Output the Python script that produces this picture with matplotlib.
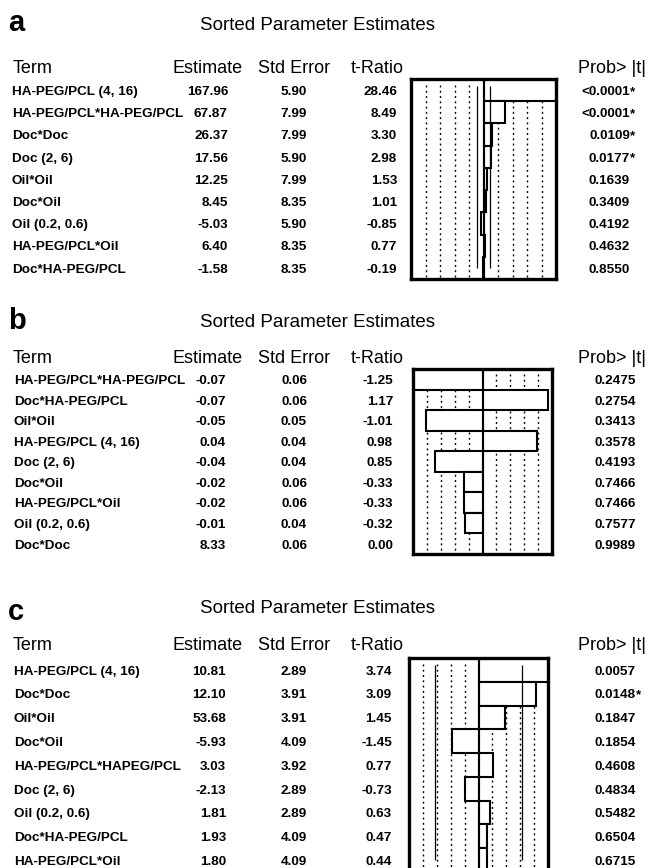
import matplotlib
matplotlib.use("Agg")
import matplotlib.pyplot as plt

plt.rcParams['font.family'] = ['Liberation Sans', 'DejaVu Sans']

W, H = 646, 868

# ---------------- data ----------------
headers = ["Term", "Estimate", "Std Error", "t-Ratio", "Prob> |t|"]
title = "Sorted Parameter Estimates"
T_CRIT = 2.365

terms_a = ["HA-PEG/PCL (4, 16)", "HA-PEG/PCL*HA-PEG/PCL", "Doc*Doc", "Doc (2, 6)",
           "Oil*Oil", "Doc*Oil", "Oil (0.2, 0.6)", "HA-PEG/PCL*Oil", "Doc*HA-PEG/PCL"]
est_a = [167.96, 67.87, 26.37, 17.56, 12.25, 8.45, -5.03, 6.40, -1.58]
se_a = [5.90, 7.99, 7.99, 5.90, 7.99, 8.35, 5.90, 8.35, 8.35]
t_a = [28.46, 8.49, 3.30, 2.98, 1.53, 1.01, -0.85, 0.77, -0.19]
p_a = ["<0.0001*", "<0.0001*", "0.0109*", "0.0177*", "0.1639", "0.3409",
       "0.4192", "0.4632", "0.8550"]
bars_a = t_a

terms_b = ["HA-PEG/PCL*HA-PEG/PCL", "Doc*HA-PEG/PCL", "Oil*Oil", "HA-PEG/PCL (4, 16)",
           "Doc (2, 6)", "Doc*Oil", "HA-PEG/PCL*Oil", "Oil (0.2, 0.6)", "Doc*Doc"]
est_b = [-0.07, -0.07, -0.05, 0.04, -0.04, -0.02, -0.02, -0.01, 8.33]
se_b = [0.06, 0.06, 0.05, 0.04, 0.04, 0.06, 0.06, 0.04, 0.06]
t_b = [-1.25, 1.17, -1.01, 0.98, 0.85, -0.33, -0.33, -0.32, 0.00]
p_b = ["0.2475", "0.2754", "0.3413", "0.3578", "0.4193", "0.7466",
       "0.7466", "0.7577", "0.9989"]
# bar chart values (the Doc (2, 6) bar points to the negative side)
bars_b = [-1.25, 1.17, -1.01, 0.98, -0.85, -0.33, -0.33, -0.32, 0.00]

terms_c = ["HA-PEG/PCL (4, 16)", "Doc*Doc", "Oil*Oil", "Doc*Oil", "HA-PEG/PCL*HAPEG/PCL",
           "Doc (2, 6)", "Oil (0.2, 0.6)", "Doc*HA-PEG/PCL", "HA-PEG/PCL*Oil"]
est_c = [10.81, 12.10, 53.68, -5.93, 3.03, -2.13, 1.81, 1.93, 1.80]
se_c = [2.89, 3.91, 3.91, 4.09, 3.92, 2.89, 2.89, 4.09, 4.09]
t_c = [3.74, 3.09, 1.45, -1.45, 0.77, -0.73, 0.63, 0.47, 0.44]
p_c = ["0.0057", "0.0148*", "0.1847", "0.1854", "0.4608", "0.4834",
       "0.5482", "0.6504", "0.6715"]
bars_c = t_c

# ---------------- layout (pixels) ----------------
layouts = {
    "a": dict(letter_y=31, title_y=30, head_y=73, box=(411, 79, 556, 279),
              term_x=12, est_x=228, se_x=307, t_x=397, p_x=630),
    "b": dict(letter_y=329, title_y=327, head_y=363, box=(413, 369, 552, 554),
              term_x=14, est_x=226, se_x=307, t_x=393, p_x=636),
    "c": dict(letter_y=620, title_y=613, head_y=650, box=(409, 658, 548, 872),
              term_x=14, est_x=226, se_x=307, t_x=392, p_x=636),
}
head_x = [13, 172, 258, 351, 578]

ROW_FS = 9.7
HEAD_FS = 13.0
TITLE_FS = 13.5
LETTER_FS = 21

fig = plt.figure(figsize=(W / 100, H / 100), dpi=100)
canvas = fig.add_axes([0, 0, 1, 1])
canvas.set_xlim(0, W)
canvas.set_ylim(H, 0)
canvas.axis('off')


def px_axes(x0, y0, x1, y1):
    return fig.add_axes([x0 / W, 1 - y1 / H, (x1 - x0) / W, (y1 - y0) / H])


def draw_panel(letter, terms, est, se, tr, prob, bars):
    L = layouts[letter]
    canvas.text(8, L["letter_y"], letter, fontsize=LETTER_FS, fontweight='bold',
                ha='left', va='baseline')
    canvas.text(317, L["title_y"], title, fontsize=TITLE_FS, ha='center', va='baseline')
    for hx, h in zip(head_x, headers):
        canvas.text(hx, L["head_y"], h, fontsize=HEAD_FS, ha='left', va='baseline')

    x0, y0, x1, y1 = L["box"]
    n = len(terms)
    band = (y1 - y0) / n

    # bar chart of t-ratios
    ax = px_axes(x0, y0, x1, y1)
    lim = max(abs(v) for v in bars)
    ax.set_xlim(-lim, lim)
    ax.set_ylim(n - 0.5, -0.5)
    for f in (0.2, 0.4, 0.6, 0.8):
        for sgn in (-1, 1):
            ax.vlines(sgn * f * lim, -0.25, n - 0.6, colors='black', lw=1.0,
                      linestyles=(0, (1.4, 2.4)), zorder=1)
    ax.barh(range(n), bars, height=1.0, color='white', edgecolor='black',
            linewidth=1.5, zorder=2)
    if T_CRIT < lim:
        for sgn in (-1, 1):
            ax.vlines(sgn * T_CRIT, -0.2, n - 1, colors='black', lw=0.9, zorder=3)
    ax.axvline(0, color='black', lw=1.5, zorder=3)
    for s in ax.spines.values():
        s.set_linewidth(2.4)
        s.set_zorder(4)
    ax.set_xticks([])
    ax.set_yticks([])

    # table rows
    for i in range(n):
        yb = y0 + (i + 0.5) * band + 4.8
        kw = dict(fontsize=ROW_FS, fontweight='bold', va='baseline')
        canvas.text(L["term_x"], yb, terms[i], ha='left', **kw)
        canvas.text(L["est_x"], yb, f"{est[i]:.2f}", ha='right', **kw)
        canvas.text(L["se_x"], yb, f"{se[i]:.2f}", ha='right', **kw)
        canvas.text(L["t_x"], yb, f"{tr[i]:.2f}", ha='right', **kw)
        p = prob[i]
        if p.endswith('*'):
            canvas.text(L["p_x"], yb, p[:-1], ha='right', **kw)
            canvas.text(L["p_x"], yb, '*', ha='left', **kw)
        else:
            canvas.text(L["p_x"], yb, p, ha='right', **kw)


draw_panel("a", terms_a, est_a, se_a, t_a, p_a, bars_a)
draw_panel("b", terms_b, est_b, se_b, t_b, p_b, bars_b)
draw_panel("c", terms_c, est_c, se_c, t_c, p_c, bars_c)

fig.savefig("out.png", dpi=100)
